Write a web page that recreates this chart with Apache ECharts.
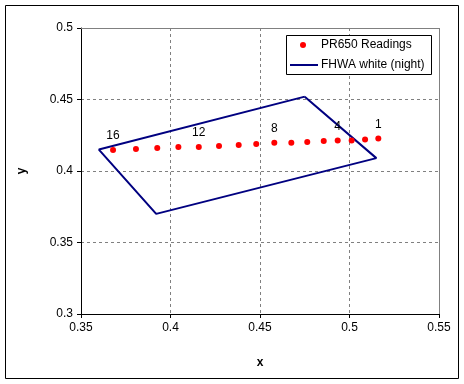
<!DOCTYPE html>
<html><head><meta charset="utf-8">
<script src="https://cdn.jsdelivr.net/npm/echarts@6/dist/echarts.min.js"></script>
<style>html,body{margin:0;padding:0;background:#fff}#c{width:464px;height:384px}</style>
</head><body><div id="c"></div>
<script>
const readingX = [0.5161,0.5087,0.5012,0.4934,0.4856,0.4764,0.4675,0.4580,0.4479,0.4381,0.4271,0.4158,0.4044,0.3926,0.3807,0.3679];
const readingY = [0.4228,0.4221,0.4214,0.4214,0.4209,0.4202,0.4197,0.4197,0.4188,0.4181,0.4174,0.4167,0.4167,0.4160,0.4153,0.4146];
const readingLabels = ['1','','','4','','','','8','','','','12','','','','16'];
const boxX = [0.475,0.360,0.392,0.515,0.475];
const boxY = [0.452,0.415,0.370,0.409,0.452];
const seriesNames = ['PR650 Readings','FHWA white (night)'];

const font = 'Liberation Sans, Arial, sans-serif';
const chart = echarts.init(document.getElementById('c'), null, {renderer:'canvas'});
chart.setOption({
  animation:false,
  backgroundColor:'#fff',
  textStyle:{fontFamily:font},
  graphic:[
    {type:'rect', shape:{x:5.5,y:5.5,width:453,height:373}, style:{fill:null,stroke:'#000',lineWidth:1}, z:-1},
    {type:'polyline', shape:{points:[[81,28.5],[439.5,28.5],[439.5,314]]}, style:{stroke:'#808080',lineWidth:1,fill:null}, z:1},
    {type:'rect', shape:{x:286.5,y:35.5,width:145,height:39}, style:{fill:'#fff',stroke:'#000',lineWidth:1}, z:10},
    {type:'circle', shape:{cx:303,cy:45,r:3}, style:{fill:'#ff0000'}, z:11},
    {type:'line', shape:{x1:290,y1:65,x2:318,y2:65}, style:{stroke:'#000080',lineWidth:2}, z:11},
    {type:'text', x:321, y:45, style:{text:seriesNames[0],font:'12px '+font,fill:'#000',verticalAlign:'middle'}, z:11},
    {type:'text', x:321, y:65, style:{text:seriesNames[1],font:'12px '+font,fill:'#000',verticalAlign:'middle'}, z:11}
  ],
  grid:{left:81,right:25,top:28,bottom:70,containLabel:false},
  xAxis:{type:'value',min:0.35,max:0.55,interval:0.05,
    name:'x',nameLocation:'middle',nameGap:43,
    nameTextStyle:{fontWeight:'bold',fontSize:12,color:'#000',fontFamily:font},
    axisLine:{show:true,onZero:false,lineStyle:{color:'#000',width:1}},
    axisTick:{show:true,length:4,inside:false,lineStyle:{color:'#000'}},
    axisLabel:{fontSize:12,color:'#000',margin:8,fontFamily:font,formatter:v=>String(+v.toFixed(2))},
    splitLine:{show:true,lineStyle:{color:'#808080',type:[3,3],width:1}}},
  yAxis:{type:'value',min:0.3,max:0.5,interval:0.05,
    name:'y',nameLocation:'middle',nameGap:53,
    nameTextStyle:{fontWeight:'bold',fontSize:12,color:'#000',fontFamily:font},
    axisLine:{show:true,onZero:false,lineStyle:{color:'#000',width:1}},
    axisTick:{show:true,length:4,inside:false,lineStyle:{color:'#000'}},
    axisLabel:{fontSize:12,color:'#000',margin:8,fontFamily:font,formatter:v=>String(+v.toFixed(2))},
    splitLine:{show:true,lineStyle:{color:'#808080',type:[3,3],width:1}}},
  series:[
    {name:seriesNames[1],type:'line',data:boxX.map((x,i)=>[x,boxY[i]]),
     symbol:'none',showSymbol:false,lineStyle:{color:'#000080',width:2},itemStyle:{color:'#000080'},z:2},
    {name:seriesNames[0],type:'scatter',data:readingX.map((x,i)=>[x,readingY[i]]),
     symbol:'circle',symbolSize:6,itemStyle:{color:'#ff0000',opacity:1},z:3,
     label:{show:true,position:'top',distance:5,fontSize:12,color:'#000',fontFamily:font,opacity:1,
       formatter:p=>readingLabels[p.dataIndex]}}
  ]
});
</script></body></html>
